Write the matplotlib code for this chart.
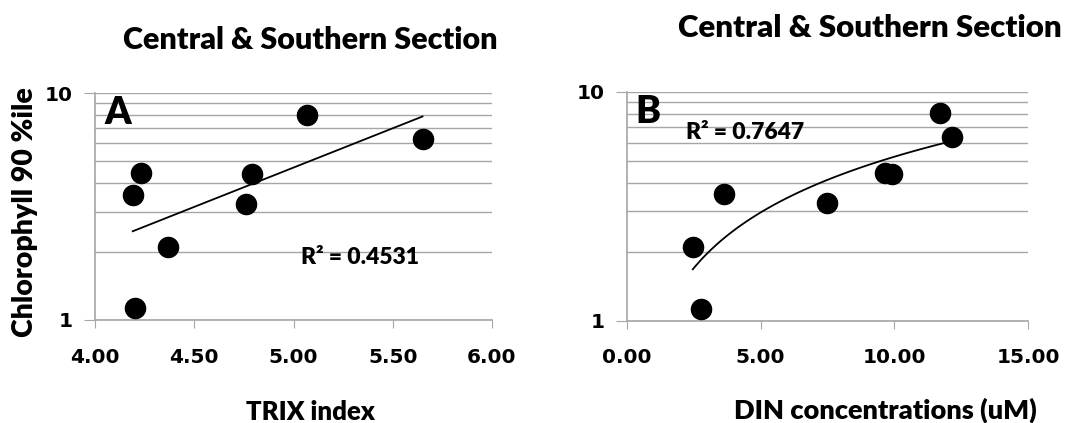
import numpy as np
import matplotlib
matplotlib.use("Agg")
import matplotlib.pyplot as plt
from matplotlib.ticker import FixedLocator, NullFormatter

# Panel A data: TRIX index vs Chlorophyll 90%ile
trix = [4.19, 4.23, 4.37, 4.20, 4.76, 4.79, 5.07, 5.65]
chl_a = [3.55, 4.44, 2.10, 1.13, 3.23, 4.38, 8.0, 6.27]
# Panel B data: DIN vs Chlorophyll 90%ile
din = [2.47, 2.76, 3.65, 7.47, 9.65, 9.90, 11.70, 12.14]
chl_b = [2.10, 1.13, 3.57, 3.27, 4.40, 4.36, 8.1, 6.36]

title = "Central & Southern Section"
r2_a = "R² = 0.4531"
r2_b = "R² = 0.7647"
xticks_a = [4.0, 4.5, 5.0, 5.5, 6.0]
xticks_b = [0.0, 5.0, 10.0, 15.0]

FONT = "Lato"
TICKFONT = "DejaVu Sans"
GRID = "#a6a6a6"
W = "heavy"

fig = plt.figure(figsize=(10.7, 4.23), dpi=100)
axA = fig.add_axes([0.0888, 0.2435, 0.3710, 0.5365])
axB = fig.add_axes([0.5857, 0.2418, 0.3753, 0.5412])


def style(ax, xticks, xlim):
    ax.set_yscale("log")
    ax.set_ylim(1, 10)
    ax.set_xlim(*xlim)
    ax.set_yticks([1, 10])
    ax.set_yticklabels(["1", "10"], fontsize=14.5, fontweight="bold", family=TICKFONT)
    ax.yaxis.set_minor_locator(FixedLocator([2, 3, 4, 5, 6, 7, 8, 9]))
    ax.yaxis.set_minor_formatter(NullFormatter())
    ax.set_xticks(xticks)
    ax.set_xticklabels([f"{v:.2f}" for v in xticks], fontsize=14.5, fontweight="bold", family=TICKFONT)
    ax.tick_params(axis="x", direction="out", length=6, color=GRID, pad=14)
    ax.tick_params(axis="y", which="major", direction="out", length=8, color=GRID, pad=8)
    ax.tick_params(axis="y", which="minor", length=0)
    ax.grid(True, axis="y", which="both", color=GRID, linewidth=1.0)
    ax.set_axisbelow(True)
    for s in ["top", "right"]:
        ax.spines[s].set_visible(False)
    for s in ["left", "bottom"]:
        ax.spines[s].set_color(GRID)
        ax.spines[s].set_linewidth(1.2)


style(axA, xticks_a, (4.0, 6.0))
style(axB, xticks_b, (0.0, 15.0))

# Panel A: exponential trend
xa = np.array(trix); ya = np.array(chl_a)
b, a = np.polyfit(xa, np.log(ya), 1)
xs = np.linspace(xa.min(), xa.max(), 100)
axA.plot(xs, np.exp(a + b * xs), color="black", linewidth=1.3, zorder=2)
axA.plot(xa, ya, "o", color="black", markersize=14.5, zorder=3)

# Panel B: power trend
xb = np.array(din); yb = np.array(chl_b)
bb, ab = np.polyfit(np.log(xb), np.log(yb), 1)
xs2 = np.linspace(xb.min(), xb.max(), 100)
axB.plot(xs2, np.exp(ab) * xs2 ** bb, color="black", linewidth=1.3, zorder=2)
axB.plot(xb, yb, "o", color="black", markersize=14.5, zorder=3)

# Text labels
axA.text(0.025, 0.985, "A", transform=axA.transAxes, fontsize=27, fontweight=W,
         family=FONT, va="top", ha="left")
axB.text(0.022, 0.985, "B", transform=axB.transAxes, fontsize=27, fontweight=W,
         family=FONT, va="top", ha="left")
axA.text(0.52, 0.248, r2_a, transform=axA.transAxes, fontsize=16.5, fontweight=W, family=FONT)
axB.text(0.148, 0.795, r2_b, transform=axB.transAxes, fontsize=16.5, fontweight=W, family=FONT)

fig.text(0.290, 0.905, title, fontsize=22, fontweight=W, family=FONT, ha="center", va="center")
fig.text(0.813, 0.934, title, fontsize=22.5, fontweight=W, family=FONT, ha="center", va="center")
fig.text(0.290, 0.026, "TRIX index", fontsize=18.5, fontweight=W, family=FONT, ha="center", va="center")
fig.text(0.827, 0.030, "DIN concentrations (uM)", fontsize=19.5, fontweight=W, family=FONT,
         ha="center", va="center")
fig.text(0.0234, 0.499, "Chlorophyll 90 %ile", fontsize=20.5, fontweight=W, family=FONT,
         ha="center", va="center", rotation=90)

fig.savefig("out.png", dpi=100)
